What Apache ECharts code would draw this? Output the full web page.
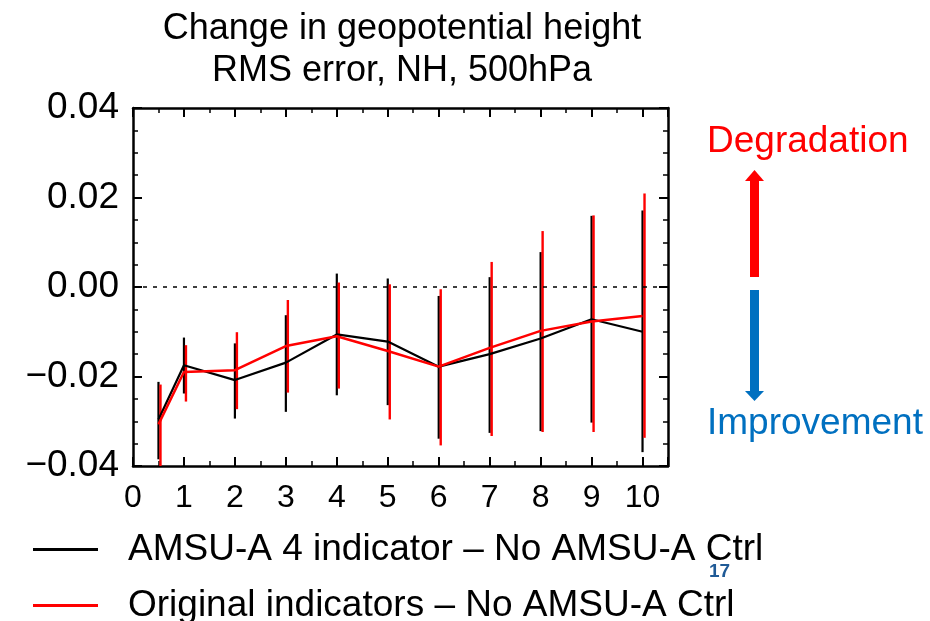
<!DOCTYPE html>
<html>
<head>
<meta charset="utf-8">
<script src="https://cdn.jsdelivr.net/npm/echarts@6/dist/echarts.min.js"></script>
<style>
  html, body { margin: 0; padding: 0; background: #fff; }
  #chart { width: 930px; height: 621px; }
</style>
</head>
<body>
<div id="chart"></div>
<script>
// forecast day (x) and change in RMS error (y)
const leadDays = [0.5, 1, 2, 3, 4, 5, 6, 7, 8, 9, 10];

const amsuMean = [-0.0296, -0.0175, -0.0208, -0.0169, -0.0106, -0.0122, -0.0178, -0.0150, -0.0115, -0.0072, -0.0100];
const amsuLow  = [-0.0385, -0.0238, -0.0294, -0.0279, -0.0242, -0.0264, -0.0339, -0.0326, -0.0322, -0.0303, -0.0369];
const amsuHigh = [-0.0212, -0.0113, -0.0126, -0.0063, 0.0030, 0.0019, -0.0020, 0.0022, 0.0078, 0.0159, 0.0171];

const origMean = [-0.0307, -0.0190, -0.0186, -0.0132, -0.0110, -0.0143, -0.0178, -0.0136, -0.0098, -0.0077, -0.0065];
const origLow  = [-0.0420, -0.0256, -0.0273, -0.0236, -0.0227, -0.0296, -0.0354, -0.0333, -0.0324, -0.0324, -0.0337];
const origHigh = [-0.0218, -0.0130, -0.0101, -0.0029, 0.0010, 0.0006, -0.0005, 0.0056, 0.0125, 0.0160, 0.0209];

const amsuName = "AMSU-A 4 indicator \u2013 No AMSU-A Ctrl";
const origName = "Original indicators \u2013 No AMSU-A Ctrl";

const FONT = "Liberation Sans, Arial, sans-serif";

function pairs(xs, ys) {
  return xs.map((x, i) => [x, ys[i]]);
}
function ranges(xs, lo, hi) {
  return xs.map((x, i) => [x, lo[i], hi[i]]);
}

function errorBars(color, width, offset) {
  return function (params, api) {
    const top = api.coord([api.value(0), api.value(2)]);
    const bot = api.coord([api.value(0), api.value(1)]);
    return {
      type: "line",
      shape: { x1: top[0] + offset, y1: top[1], x2: bot[0] + offset, y2: bot[1] },
      style: { stroke: color, lineWidth: width },
    };
  };
}

const chart = echarts.init(document.getElementById("chart"), null, { renderer: "canvas" });

const yFmt = (v) => {
  if (Math.abs(v) < 1e-9) return "0.00";
  return (v < 0 ? "\u2212" : "") + Math.abs(v).toFixed(2);
};

const boxAxis = {
  axisLine: { show: true, onZero: false, lineStyle: { color: "#000", width: 2.5 } },
  axisTick: { show: true, inside: true, length: 9, lineStyle: { color: "#000", width: 2 } },
  minorTick: { show: true, length: 5, lineStyle: { color: "#000", width: 1.5 } },
  splitLine: { show: false },
};

const legendText = { fontFamily: FONT, fontSize: 37, color: "#000", padding: [0, 0, 0, 25] };

const option = {
  animation: false,
  backgroundColor: "#fff",
  title: {
    text: "Change in geopotential height\nRMS error, NH, 500hPa",
    left: 397,
    top: 3,
    textAlign: "center",
    textStyle: { fontFamily: FONT, fontSize: 36, fontWeight: "normal", color: "#000", lineHeight: 42 },
  },
  legend: [
    {
      data: [amsuName],
      left: 33,
      top: 531,
      padding: 0,
      icon: "rect",
      itemWidth: 65,
      itemHeight: 3,
      selectedMode: false,
      textStyle: legendText,
    },
    {
      data: [origName],
      left: 33,
      top: 587,
      padding: 0,
      icon: "rect",
      itemWidth: 65,
      itemHeight: 3,
      selectedMode: false,
      textStyle: legendText,
    },
  ],
  grid: { left: 133, right: 262, top: 108, bottom: 155, containLabel: false },
  xAxis: [
    Object.assign({}, boxAxis, {
      type: "value",
      position: "bottom",
      min: 0,
      max: 10.5,
      interval: 1,
      minorTick: Object.assign({}, boxAxis.minorTick, { splitNumber: 2 }),
      axisLabel: {
        show: true,
        margin: 16,
        showMaxLabel: false,
        fontFamily: FONT,
        fontSize: 32,
        color: "#000",
        formatter: (v) => (Number.isInteger(v) ? String(v) : ""),
      },
    }),
    Object.assign({}, boxAxis, {
      type: "value",
      position: "top",
      min: 0,
      max: 10.5,
      interval: 1,
      minorTick: Object.assign({}, boxAxis.minorTick, { splitNumber: 2 }),
      axisLabel: { show: false },
    }),
  ],
  yAxis: [
    Object.assign({}, boxAxis, {
      type: "value",
      position: "left",
      min: -0.04,
      max: 0.04,
      interval: 0.02,
      minorTick: Object.assign({}, boxAxis.minorTick, { splitNumber: 4 }),
      axisLabel: { show: true, margin: 14, fontFamily: FONT, fontSize: 37, color: "#000", formatter: yFmt },
    }),
    Object.assign({}, boxAxis, {
      type: "value",
      position: "right",
      min: -0.04,
      max: 0.04,
      interval: 0.02,
      minorTick: Object.assign({}, boxAxis.minorTick, { splitNumber: 4 }),
      axisLabel: { show: false },
    }),
  ],
  series: [
    {
      name: "amsuBars",
      type: "custom",
      clip: true,
      renderItem: errorBars("#000000", 2.2, 0),
      encode: { x: 0, y: [1, 2] },
      data: ranges(leadDays, amsuLow, amsuHigh),
      z: 2,
    },
    {
      name: "origBars",
      type: "custom",
      clip: true,
      renderItem: errorBars("#ff0000", 2.4, 2),
      encode: { x: 0, y: [1, 2] },
      data: ranges(leadDays, origLow, origHigh),
      z: 3,
    },
    {
      name: amsuName,
      type: "line",
      color: "#000000",
      showSymbol: false,
      symbol: "none",
      lineStyle: { color: "#000000", width: 2.2 },
      data: pairs(leadDays, amsuMean),
      markLine: {
        silent: true,
        symbol: "none",
        label: { show: false },
        lineStyle: { color: "#000", width: 1.5, type: [4, 6] },
        data: [{ yAxis: 0 }],
      },
      z: 4,
    },
    {
      name: origName,
      type: "line",
      color: "#ff0000",
      showSymbol: false,
      symbol: "none",
      lineStyle: { color: "#ff0000", width: 2.5 },
      data: pairs(leadDays, origMean),
      z: 5,
    },
  ],
  graphic: [
    {
      type: "text",
      left: 707,
      top: 123,
      style: { text: "Degradation", fontFamily: FONT, fontSize: 37, fill: "#ff0000" },
    },
    { type: "rect", shape: { x: 750, y: 179, width: 9, height: 98 }, style: { fill: "#ff0000" } },
    { type: "polygon", shape: { points: [[745, 181], [764, 181], [754.5, 170]] }, style: { fill: "#ff0000" } },
    { type: "rect", shape: { x: 750, y: 290, width: 9, height: 102 }, style: { fill: "#0070c0" } },
    { type: "polygon", shape: { points: [[745, 391], [764, 391], [754.5, 401]] }, style: { fill: "#0070c0" } },
    {
      type: "text",
      left: 707,
      top: 405,
      style: { text: "Improvement", fontFamily: FONT, fontSize: 37, fill: "#0070c0" },
    },
    {
      type: "text",
      left: 709,
      top: 562,
      style: { text: "17", fontFamily: FONT, fontSize: 19, fontWeight: "bold", fill: "#1f5a96" },
    },
  ],
};

chart.setOption(option);
</script>
</body>
</html>
